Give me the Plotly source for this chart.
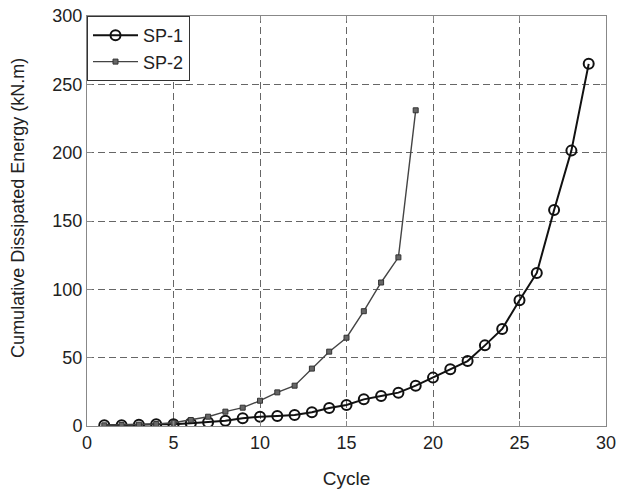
import plotly.graph_objects as go

cycles_sp1 = list(range(1, 30))
energy_sp1 = [0.5, 0.5, 1.0, 1.3, 1.2, 2.0, 2.7, 3.9, 5.6, 6.8, 7.3, 8.0, 10.0, 13.2,
              15.4, 19.5, 22.0, 24.4, 29.5, 35.4, 41.5, 47.5, 59.0, 71.0, 92.0,
              112.0, 158.0, 201.5, 265.0]

cycles_sp2 = list(range(1, 20))
energy_sp2 = [0.5, 0.8, 1.0, 1.5, 2.4, 4.4, 6.8, 10.5, 13.4, 18.5, 24.6, 29.5,
              42.0, 54.4, 64.6, 84.0, 105.0, 123.4, 231.0]

x_ticks = [0, 5, 10, 15, 20, 25, 30]
y_ticks = [0, 50, 100, 150, 200, 250, 300]

FONT = "Liberation Sans, Arial"

fig = go.Figure()
fig.add_trace(go.Scatter(
    x=cycles_sp1, y=energy_sp1, name="SP-1", mode="lines+markers",
    line=dict(color="#111111", width=2),
    marker=dict(symbol="circle-open", size=10, color="#111111", line=dict(width=2)),
))
fig.add_trace(go.Scatter(
    x=cycles_sp2, y=energy_sp2, name="SP-2", mode="lines+markers",
    line=dict(color="#444444", width=1.4),
    marker=dict(symbol="square", size=5, color="#666666", line=dict(color="#333333", width=1)),
))

axis_common = dict(
    showgrid=True, gridcolor="#666666", griddash="7px,4px", gridwidth=1,
    showline=True, linecolor="#888888", linewidth=1, mirror="ticks",
    ticks="inside", ticklen=5, tickcolor="#888888",
    zeroline=False, automargin=False,
    tickfont=dict(family=FONT, size=18, color="#222222"),
)

fig.update_layout(
    width=627, height=492,
    margin=dict(l=87, r=21, t=16, b=66),
    paper_bgcolor="white", plot_bgcolor="white",
    font=dict(family=FONT, size=18, color="#222222"),
    xaxis=dict(range=[0, 30], tickvals=x_ticks,
               title=dict(text="Cycle", standoff=20, font=dict(family=FONT, size=19, color="#222222")),
               **axis_common),
    yaxis=dict(range=[0, 300], tickvals=y_ticks, **axis_common),
    legend=dict(x=0, y=1, xanchor="left", yanchor="top", bgcolor="white",
                bordercolor="#333333", borderwidth=1,
                font=dict(family=FONT, size=18, color="#222222"),
                tracegroupgap=0, itemwidth=45),
    showlegend=True,
    annotations=[dict(
        text="Cumulative Dissipated Energy (kN.m)", textangle=-90,
        xref="paper", yref="paper", x=0, y=0.532, xshift=-69,
        xanchor="center", yanchor="middle", showarrow=False,
        font=dict(family=FONT, size=18, color="#222222"),
    )],
)

fig.write_html("out.html")
